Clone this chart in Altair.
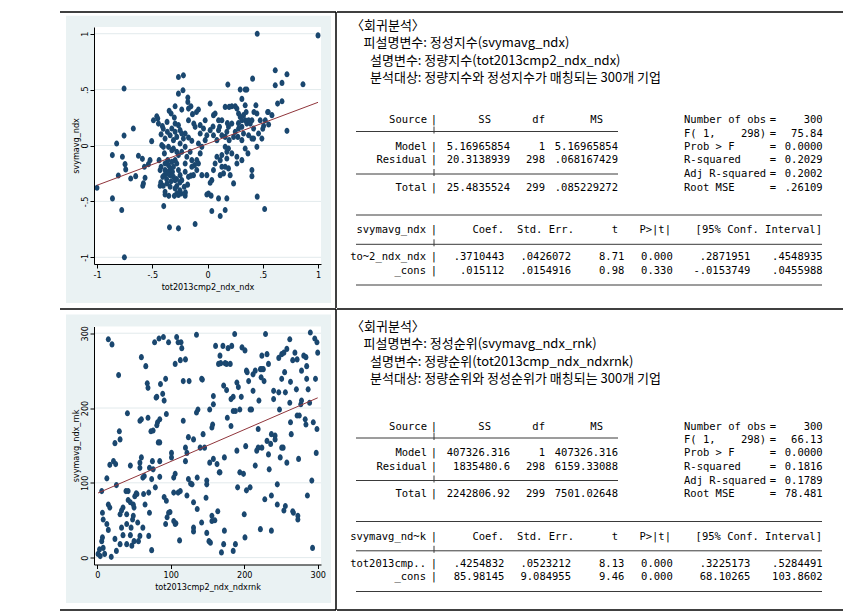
import altair as alt
import pandas as pd

# ---------------- scatter data ----------------
SCATTER1 = [
 [0.45,1.0],[1.0,0.985],[-0.755,0.51],[-1.0,-0.378],[-0.86,-0.473],[-0.776,-0.577],[-0.752,-1.0],
 [-0.344,-0.732],[-0.263,-0.741],[-0.112,-0.702],[-0.396,-0.542],[0.039,-0.586],[0.115,-0.631],
 [0.16,-0.577],[0.45,-0.458],[0.517,-0.568],[0.402,-0.274],[0.613,0.673],[0.719,0.637],[0.674,0.56],
 [0.613,0.539],[0.864,0.548],[0.408,0.598],[0.184,0.545],[0.296,0.5],[0.341,0.5],[0.356,0.5],
 [0.719,0.131],[0.634,0.375],[0.674,0.396],[0.544,0.30],[0.583,0.271],[0.553,0.188],[0.492,0.062],
 [0.447,-0.012],[0.462,0.107],[0.508,0.176],[0.417,0.062],[0.438,0.36],[0.447,0.286],
 [-0.218,0.628],[-0.263,0.613],[-0.222,0.494],[-0.263,0.464],[-0.293,0.351],[-0.233,0.321],
 [-0.178,0.429],[-0.178,0.39],[-0.172,0.33],[-0.136,0.28],[-0.082,0.321],[-0.347,0.31],[-0.329,0.286],
 [-0.459,0.262],[-0.45,0.241],[-0.671,0.152],[-0.755,0.089],[-0.822,0.018],[-0.861,-0.086],
 [-0.77,-0.101],[-0.746,-0.167],[-0.74,-0.214],[-0.807,-0.268],[-0.695,-0.295],[-0.625,-0.092],
 [-0.65,-0.274],[-0.589,-0.119],[-0.571,-0.19],[-0.565,-0.289],[-0.58,-0.339],[-0.586,-0.36],
 [-0.52,-0.131],[-0.535,-0.167],[-0.505,0.039],[-0.438,-0.131],[-0.429,-0.22],[-0.423,-0.33],
 [-0.429,-0.36],[-0.384,-0.414],[-0.384,-0.438],[-0.39,-0.265],[-0.39,-0.071],[-0.399,-0.012],
 [-0.384,0.062],[-0.363,0.122],[-0.338,0.092],[-0.323,0.152],[-0.293,0.122],[-0.293,0.196],
 [-0.263,0.182],[-0.366,0.211],[-0.408,0.173],[-0.444,0.196],[-0.489,0.226],[-0.353,-0.012],
 [-0.323,-0.042],[-0.36,-0.131],[-0.353,-0.176],[-0.338,-0.205],[-0.317,-0.235],[-0.308,-0.28],
 [-0.293,-0.31],[-0.278,-0.363],[-0.263,-0.443],[-0.239,-0.429],[-0.202,-0.449],[-0.211,-0.369],
 [-0.233,-0.31],[-0.248,-0.265],[-0.263,-0.22],[-0.278,-0.161],[-0.293,-0.131],[-0.263,-0.086],
 [-0.233,-0.057],[-0.202,-0.012],[-0.218,0.062],[-0.202,0.107],[-0.172,0.071],[-0.142,0.042],
 [-0.157,-0.057],[-0.187,-0.101],[-0.202,-0.161],[-0.202,-0.235],[-0.172,-0.28],[-0.127,-0.265],
 [-0.118,-0.176],[-0.097,-0.131],[-0.066,-0.071],[-0.051,-0.012],[-0.082,0.018],[-0.066,0.107],
 [-0.036,0.152],[-0.006,0.092],[-0.021,0.048],[0.024,0.137],[0.054,0.092],[0.085,0.048],
 [0.054,0.271],[0.024,0.375],[0.069,0.286],[0.1,0.226],[0.109,0.167],[0.13,0.092],[0.16,0.077],
 [0.196,0.048],[0.16,0.345],[0.196,0.345],[0.22,0.351],[0.22,0.196],[0.266,0.33],[0.281,0.286],
 [0.296,0.256],[0.311,0.226],[0.326,0.271],[0.341,0.226],[0.356,0.196],[0.372,0.226],[0.387,0.196],
 [0.311,0.167],[0.281,0.152],[0.251,0.122],[0.236,0.077],[0.275,0.077],[0.326,0.107],[0.311,0.048],
 [0.341,-0.027],[0.366,-0.071],[0.311,-0.131],[0.266,-0.101],[0.22,-0.071],[0.19,-0.027],
 [0.16,-0.012],[0.175,-0.057],[0.13,-0.086],[0.115,-0.131],[0.13,-0.19],[0.145,-0.25],[0.115,-0.265],
 [0.16,-0.19],[0.19,-0.205],[0.205,-0.265],[0.236,-0.339],[0.266,-0.161],[0.175,-0.116],[0.085,-0.101],
 [0.069,-0.161],[0.054,-0.22],[0.039,-0.31],[0.024,-0.333],[-0.051,-0.265],[-0.006,-0.265],
 [0.009,-0.429],[0.033,-0.449],[-0.006,-0.438],[0.1,-0.473],[0.175,-0.473],[-0.338,-0.265],
 [-0.366,-0.339],[-0.338,-0.369],[-0.293,-0.384],[-0.278,-0.429],[-0.414,0.003],[-0.42,-0.19],
 [-0.353,-0.235],[-0.405,-0.28],[-0.082,-0.161],[-0.097,-0.22],[-0.142,-0.19],[-0.142,-0.131],
 [-0.172,0.226],[-0.124,0.196],[-0.112,0.167],[-0.248,0.137],[-0.233,0.107],[-0.308,0.048],
 [-0.278,0.077],[-0.248,0.018],[-0.308,-0.027],[-0.278,-0.057],[-0.384,-0.161],[-0.323,-0.146],
 [-0.308,-0.19],[-0.384,-0.22],[-0.021,0.226],[-0.066,0.182],[0.1,0.137],[0.13,0.226],[0.311,0.417],
 [0.341,0.36],[0.251,0.351],[0.19,0.167],[0.175,0.122],[0.402,0.226],[0.402,0.062],[0.372,0.092],
 [0.417,0.152],[0.477,0.226],[0.523,0.226],[0.402,-0.22],
 [-0.3,-0.45],[-0.35,-0.45],[-0.25,-0.4],[-0.2,-0.42],[-0.28,-0.3],[-0.33,-0.32],[-0.37,-0.3],
 [-0.4,-0.36],[-0.36,-0.25],[-0.25,-0.33],[-0.18,-0.35],[-0.15,-0.27],[-0.3,0.25],[-0.4,0.15],
 [-0.42,0.1],[-0.15,0.35],[-0.1,0.3],[0.05,0.17],[0.18,0.2],[0.28,0.2],[0.42,0.3],[0.35,0.3],
 [0.5,0.15],[0.55,0.3],
]

SCATTER2 = [
 [15,292],[20,285],[29,244],[60,268],[66,256],[68,233],[69,227],[78,288],[84,293],[90,295],[97,288],
 [108,295],[110,288],[115,280],[106,259],[113,264],[93,239],[86,232],[81,215],[80,214],[89,219],
 [91,210],[94,192],[85,185],[82,181],[81,177],[76,170],[69,187],[58,183],[60,185],[73,169],[41,193],
 [30,169],[31,158],[24,153],[22,129],[25,125],[17,124],[13,106],[26,97],[6,89],[15,71],[17,67],
 [7,60],[8,51],[13,45],[15,37],[7,27],[6,22],[3,11],[1,5],[4,2],[10,5],[8,13],[19,1],[26,9],[24,25],
 [31,18],[35,30],[33,40],[31,58],[33,63],[35,67],[40,58],[40,45],[42,77],[45,74],[49,71],[51,82],
 [53,86],[50,67],[48,51],[46,40],[45,30],[47,16],[40,18],[50,22],[56,22],[58,29],[62,40],[65,71],
 [64,109],[58,120],[71,120],[45,123],[54,85],[70,29],[74,10],[71,60],[74,105],[79,94],[76,118],
 [75,129],[85,129],[85,108],[94,76],[95,54],[93,45],[99,61],[106,45],[107,46],[101,140],[101,134],
 [104,107],[106,112],[110,87],[104,87],[113,89],[112,23],[104,49],[117,183],[120,129],[122,140],
 [120,147],[124,161],[124,105],[122,83],[129,98],[127,99],[125,236],[117,236],[120,265],[114,288],
 [131,74],[131,40],[131,35],[136,65],[136,107],[135,194],[137,198],[131,158],[140,147],[142,239],
 [143,238],[135,298],[144,165],[146,147],[149,103],[149,98],[148,80],[142,47],[149,33],[152,22],
 [154,20],[156,56],[156,49],[153,127],[156,174],[157,178],[153,198],[158,216],[158,205],[161,283],
 [171,283],[167,270],[168,260],[165,259],[174,260],[176,259],[181,259],[178,280],[183,283],[187,299],
 [172,230],[176,224],[185,215],[182,212],[190,234],[192,228],[196,215],[197,281],[201,277],[158,132],
 [163,125],[166,114],[167,114],[173,134],[177,187],[182,176],[185,196],[188,196],[194,198],[190,143],
 [191,94],[194,114],[164,62],[160,50],[173,36],[172,18],[169,7],[185,9],[188,18],[200,58],[201,27],
 [199,112],[203,90],[208,94],[202,149],[203,250],[204,248],[206,236],[208,198],[210,198],[212,223],
 [212,245],[215,250],[215,123],[217,143],[219,147],[219,172],[222,252],[224,252],[226,252],[223,241],
 [220,210],[227,236],[224,270],[231,272],[229,299],[233,259],[231,156],[224,147],[222,38],[228,78],
 [233,138],[234,118],[236,152],[237,165],[240,223],[240,212],[237,83],[237,36],[242,163],[242,158],
 [245,98],[245,71],[247,221],[248,198],[247,267],[251,272],[254,274],[251,239],[253,147],[249,134],
 [251,147],[255,248],[256,221],[258,279],[262,292],[263,235],[262,207],[263,181],[264,165],[258,127],
 [256,69],[254,63],[266,62],[267,60],[273,56],[273,51],[266,264],[269,274],[272,265],[271,225],
 [272,190],[275,190],[274,132],[277,205],[278,210],[278,250],[281,270],[284,268],[283,185],[284,178],
 [285,239],[287,225],[285,256],[286,83],[289,207],[290,301],[292,103],[293,13],[294,181],[296,293],
 [297,239],[298,140],[299,172],[299,288],[300,274],[97,60],[91,81],[70,87],[60,134],[58,127],[62,107],
 [63,85],[42,89],[39,89],[49,56],[55,47],[83,154],[85,154],
]

# axis ticks / labels / titles
TICKS1 = [-1, -0.5, 0, 0.5, 1]
TICKLAB1 = ["-1", "-.5", "0", ".5", "1"]
TICKS2 = [0, 100, 200, 300]
TICKLAB2 = ["0", "100", "200", "300"]
XTITLE1, YTITLE1 = "tot2013cmp2_ndx_ndx", "svymavg_ndx"
XTITLE2, YTITLE2 = "tot2013cmp2_ndx_ndxrnk", "svymavg_ndx_rnk"

# ---------------- regression output text ----------------
HEAD1 = ["〈회귀분석〉", "피설명변수: 정성지수(svymavg_ndx)",
         "설명변수: 정량지수(tot2013cmp2_ndx_ndx)",
         "분석대상: 정량지수와 정성지수가 매칭되는 300개 기업"]
HEAD2 = ["〈회귀분석〉", "피설명변수: 정성순위(svymavg_ndx_rnk)",
         "설명변수: 정량순위(tot2013cmp_ndx_ndxrnk)",
         "분석대상: 정량순위와 정성순위가 매칭되는 300개 기업"]

ANOVA_HEAD = ["Source", "SS", "df", "MS"]
ANOVA_SRC = ["Model", "Residual", "Total"]
SS1 = ["5.16965854", "20.3138939", "25.4835524"]
DF1 = ["1", "298", "299"]
MS1 = ["5.16965854", ".068167429", ".085229272"]
SS2 = ["407326.316", "1835480.6", "2242806.92"]
DF2 = ["1", "298", "299"]
MS2 = ["407326.316", "6159.33088", "7501.02648"]

NB = "\u00a0"
STAT_NAMES = ["Number of obs", "F(" + NB + "1," + NB * 4 + "298)", "Prob > F",
              "R-squared", "Adj R-squared", "Root MSE"]
STAT1 = ["300", "75.84", "0.0000", "0.2029", "0.2002", ".26109"]
STAT2 = ["300", "66.13", "0.0000", "0.1816", "0.1789", "78.481"]

COEF_HEAD = ["Coef.", "Std. Err.", "t", "P>|t|", "[95% Conf. Interval]"]
DEP1, DEP2 = "svymavg_ndx", "svymavg_nd~k"
VARS1 = ["to~2_ndx_ndx", "_cons"]
VARS2 = ["tot2013cmp..", "_cons"]
COEF1 = [".3710443", ".015112"]; SE1 = [".0426072", ".0154916"]
T1 = ["8.71", "0.98"]; P1 = ["0.000", "0.330"]
LO1 = [".2871951", "-.0153749"]; HI1 = [".4548935", ".0455988"]
COEF2 = [".4254832", "85.98145"]; SE2 = [".0523212", "9.084955"]
T2 = ["8.13", "9.46"]; P2 = ["0.000", "0.000"]
LO2 = [".3225173", "68.10265"]; HI2 = [".5284491", "103.8602"]

# ---------------- styles & layout (page pixels) ----------------
NAVY, MAROON, PANEL, GRID = "#1A476F", "#90353B", "#EAF2F3", "#E2EAEC"
AXF = "Liberation Sans Narrow, Arial Narrow, DejaVu Sans Condensed, Liberation Sans, Arial, sans-serif"
KRF = "Noto Sans CJK KR"
MONOF = "DejaVu Sans Mono"
ELLIPSE = "M-0.8,0A0.8,1 0 1,0 0.8,0A0.8,1 0 1,0 -0.8,0Z"

PLOT_X0, PLOT_W = 94, 227
FRAME_X0, FRAME_SPLIT, FRAME_X1 = 60, 336, 842
PANEL_X0, PANEL_X1 = 66, 331

ROWS = [
    dict(plot_y0=27, plot_h=237, panel_y0=15.7, panel_y1=303, top=12, bottom=308,
         draw_bottom=False, kr_dy=0, tab_dy=0),
    dict(plot_y0=325.5, plot_h=238, panel_y0=313.5, panel_y1=602, top=308, bottom=609,
         draw_bottom=True, kr_dy=300, tab_dy=305.5),
]

KR_X = [350, 362.5, 369, 369]
KR_Y = [25.7, 43.3, 61, 78.3]
BAR_X = 433
AN_HEAD_X = [426, 490, 544, 602]          # right edges
AN_COL_X = [426, 509, 544, 617]           # right edges
AN_HEAD_Y = 120
AN_ROW_Y = [146.7, 160.3, 187.5]
AN_LINES_Y = [131.5, 174]
AN_LINE_X = [355, 617]
ST_X, ST_EQ_X, ST_VAL_X = 683, 772, 821.7
ST_Y = [120, 133.5, 146.7, 160.3, 174, 187.5]
CF_HEAD_X = [425, 503, 573, 617, 670, 821]
CF_COL_X = [425, 503.3, 570, 623.3, 671.7, 749.3, 821.7]
CF_HEAD_Y = 230
CF_ROW_Y = [257, 270.5]
CF_LINES_Y = [215, 244.3, 285]
CF_LINE_X = [355, 821]


def lab_expr(ticks, labels):
    arr = "[" + ",".join("'%s'" % l for l in labels) + "]"
    vals = "[" + ",".join(repr(float(t)) for t in ticks) + "]"
    return "%s[indexof(%s, datum.value)]" % (arr, vals)


def scatter_cell(pts, slope, cons, xdom, ydom, xt, xl, yt, yl, xtitle, ytitle, row):
    W, H = PLOT_W, row["plot_h"]
    ox, oy = PLOT_X0, row["plot_y0"]
    df = pd.DataFrame(pts, columns=["x", "y"])
    x0, x1 = float(df.x.min()), float(df.x.max())
    fit = pd.DataFrame({"x": [x0, x1], "y": [cons + slope * x0, cons + slope * x1]})
    xsc = alt.Scale(domain=xdom, nice=False, zero=False)
    ysc = alt.Scale(domain=ydom, nice=False, zero=False)
    common = dict(grid=False, zindex=1, domainColor="black", domainWidth=1, tickColor="black",
                  tickWidth=1, tickSize=4, labelFont=AXF, labelFontSize=9, labelColor="black",
                  labelFlush=False, labelOverlap=False, titleFont=AXF, titleFontSize=9,
                  titleFontWeight="normal", titleColor="black")
    xaxis = alt.Axis(values=xt, labelExpr=lab_expr(xt, xl), title=xtitle, labelPadding=2,
                     titleX=W / 2, titleY=22, titleAlign="center", titleBaseline="middle", **common)
    yaxis = alt.Axis(values=yt, labelExpr=lab_expr(yt, yl), title=ytitle, labelAngle=270,
                     labelAlign="center", labelBaseline="bottom", labelPadding=1, titleAngle=270,
                     titleX=-19, titleY=H / 2, titleAlign="center", titleBaseline="middle", **common)
    one = pd.DataFrame({"k": [0]})
    gray = alt.Chart(one).mark_rect(color=PANEL).encode(
        x=alt.value(PANEL_X0 - ox), x2=alt.value(PANEL_X1 - ox),
        y=alt.value(row["panel_y0"] - oy), y2=alt.value(row["panel_y1"] - oy))
    white = alt.Chart(one).mark_rect(color="white").encode(
        x=alt.value(0), x2=alt.value(W), y=alt.value(0), y2=alt.value(H))
    grid = alt.Chart(pd.DataFrame({"g": yt})).mark_rule(color=GRID, strokeWidth=1).encode(
        y=alt.Y("g:Q", scale=ysc, axis=yaxis), x=alt.value(0), x2=alt.value(W))
    points = alt.Chart(df).mark_point(shape=ELLIPSE, filled=True, size=38, color=NAVY,
                                      opacity=1, strokeWidth=0).encode(
        x=alt.X("x:Q", scale=xsc, axis=xaxis), y=alt.Y("y:Q", scale=ysc, axis=yaxis))
    line = alt.Chart(fit).mark_line(color=MAROON, strokeWidth=1).encode(
        x=alt.X("x:Q", scale=xsc, axis=xaxis), y=alt.Y("y:Q", scale=ysc, axis=yaxis))
    top = alt.Chart(one).mark_rule(color="black", strokeWidth=1.5).encode(
        x=alt.value(FRAME_X0 - ox), x2=alt.value(FRAME_SPLIT - ox), y=alt.value(row["top"] - oy))
    vert = alt.Chart(one).mark_rule(color="black", strokeWidth=1.5).encode(
        x=alt.value(FRAME_SPLIT - ox), y=alt.value(row["top"] - oy), y2=alt.value(row["bottom"] - oy))
    layers = [gray, white, grid, points, line, top, vert]
    if row["draw_bottom"]:
        layers.append(alt.Chart(one).mark_rule(color="black", strokeWidth=1.5).encode(
            x=alt.value(FRAME_X0 - ox), x2=alt.value(FRAME_SPLIT - ox),
            y=alt.value(row["bottom"] - oy)))
    return alt.layer(*layers).properties(width=W, height=H)


def text_cell(row, head, ss, dfv, ms, stats, dep, vars_, cols):
    H = row["plot_h"]
    oy = row["plot_y0"]
    kd, td = row["kr_dy"], row["tab_dy"]
    WT = FRAME_X1 - FRAME_SPLIT
    xsc = alt.Scale(domain=[FRAME_SPLIT, FRAME_X1], range=[0, WT], nice=False, zero=False)
    ysc = alt.Scale(domain=[oy, oy + H], range=[0, H], nice=False, zero=False)
    items = []  # (x, y, text, kind)
    for x, y, t in zip(KR_X, KR_Y, head):
        items.append((x, y + kd, t, "kr"))
    # ANOVA
    for x, t in zip(AN_HEAD_X, ANOVA_HEAD):
        items.append((x, AN_HEAD_Y + td, t, "r"))
    items.append((BAR_X, AN_HEAD_Y + td, "|", "c"))
    for i, y in enumerate(AN_ROW_Y):
        for x, t in zip(AN_COL_X, [ANOVA_SRC[i], ss[i], dfv[i], ms[i]]):
            items.append((x, y + td, t, "r"))
        items.append((BAR_X, y + td, "|", "c"))
    for y, name, val in zip(ST_Y, STAT_NAMES, stats):
        items.append((ST_X, y + td, name, "l"))
        items.append((ST_EQ_X, y + td, "=", "c"))
        items.append((ST_VAL_X, y + td, val, "r"))
    # coefficients
    for x, t in zip(CF_HEAD_X, [dep] + COEF_HEAD):
        items.append((x, CF_HEAD_Y + td, t, "r"))
    items.append((BAR_X, CF_HEAD_Y + td, "|", "c"))
    for i, y in enumerate(CF_ROW_Y):
        vals = [vars_[i]] + [c[i] for c in cols]
        for x, t in zip(CF_COL_X, vals):
            items.append((x, y + td, t, "r"))
        items.append((BAR_X, y + td, "|", "c"))
    tdf = pd.DataFrame(items, columns=["px", "py", "t", "kind"])

    def tx(kind, align, font, size):
        return alt.Chart(tdf[tdf.kind == kind]).mark_text(
            align=align, baseline="middle", font=font, fontSize=size, color="black").encode(
            x=alt.X("px:Q", scale=xsc, axis=None), y=alt.Y("py:Q", scale=ysc, axis=None),
            text="t:N")

    lines = [(AN_LINE_X[0], AN_LINE_X[1], y + td) for y in AN_LINES_Y] + \
            [(CF_LINE_X[0], CF_LINE_X[1], y + td) for y in CF_LINES_Y]
    ldf = pd.DataFrame(lines, columns=["a", "b", "y"])
    rules = alt.Chart(ldf).mark_rule(color="#3a3a3a", strokeWidth=1).encode(
        x=alt.X("a:Q", scale=xsc, axis=None), x2="b:Q", y=alt.Y("y:Q", scale=ysc, axis=None))
    crosses = [(BAR_X, y + td - 5, y + td + 2) for y in AN_LINES_Y] + \
              [(BAR_X, CF_LINES_Y[1] + td - 5, CF_LINES_Y[1] + td + 2)]
    cdf = pd.DataFrame(crosses, columns=["x", "y1", "y2"])
    cross = alt.Chart(cdf).mark_rule(color="#3a3a3a", strokeWidth=1).encode(
        x=alt.X("x:Q", scale=xsc, axis=None), y=alt.Y("y1:Q", scale=ysc, axis=None), y2="y2:Q")
    frames = [(FRAME_SPLIT, FRAME_X1, row["top"])]
    if row["draw_bottom"]:
        frames.append((FRAME_SPLIT, FRAME_X1, row["bottom"]))
    fdf = pd.DataFrame(frames, columns=["a", "b", "y"])
    frame = alt.Chart(fdf).mark_rule(color="black", strokeWidth=1.5).encode(
        x=alt.X("a:Q", scale=xsc, axis=None), x2="b:Q", y=alt.Y("y:Q", scale=ysc, axis=None))
    return alt.layer(frame, rules, cross,
                     tx("kr", "left", KRF, 13), tx("l", "left", MONOF, 10.5),
                     tx("r", "right", MONOF, 10.5), tx("c", "center", MONOF, 10.5)
                     ).properties(width=WT, height=H)


sc1 = scatter_cell(SCATTER1, float(COEF1[0]), float(COEF1[1]), [-1.027, 1.027], [-1.06, 1.06],
                   TICKS1, TICKLAB1, TICKS1, TICKLAB1, XTITLE1, YTITLE1, ROWS[0])
sc2 = scatter_cell(SCATTER2, float(COEF2[0]), float(COEF2[1]), [-4.5, 304.5], [-9.2, 309],
                   TICKS2, TICKLAB2, TICKS2, TICKLAB2, XTITLE2, YTITLE2, ROWS[1])
tc1 = text_cell(ROWS[0], HEAD1, SS1, DF1, MS1, STAT1, DEP1, VARS1, [COEF1, SE1, T1, P1, LO1, HI1])
tc2 = text_cell(ROWS[1], HEAD2, SS2, DF2, MS2, STAT2, DEP2, VARS2, [COEF2, SE2, T2, P2, LO2, HI2])

row1 = alt.hconcat(sc1, tc1, spacing=-1.5)
row2 = alt.hconcat(sc2, tc2, spacing=-1.5)
chart = alt.vconcat(row1, row2, spacing=-1.5).properties(
    padding={"left": 51, "top": 3, "right": 0, "bottom": 0},
    background="white",
).configure_view(strokeWidth=0, stroke="transparent")

chart.save("out.html", embed_options={"renderer": "svg", "actions": False})
